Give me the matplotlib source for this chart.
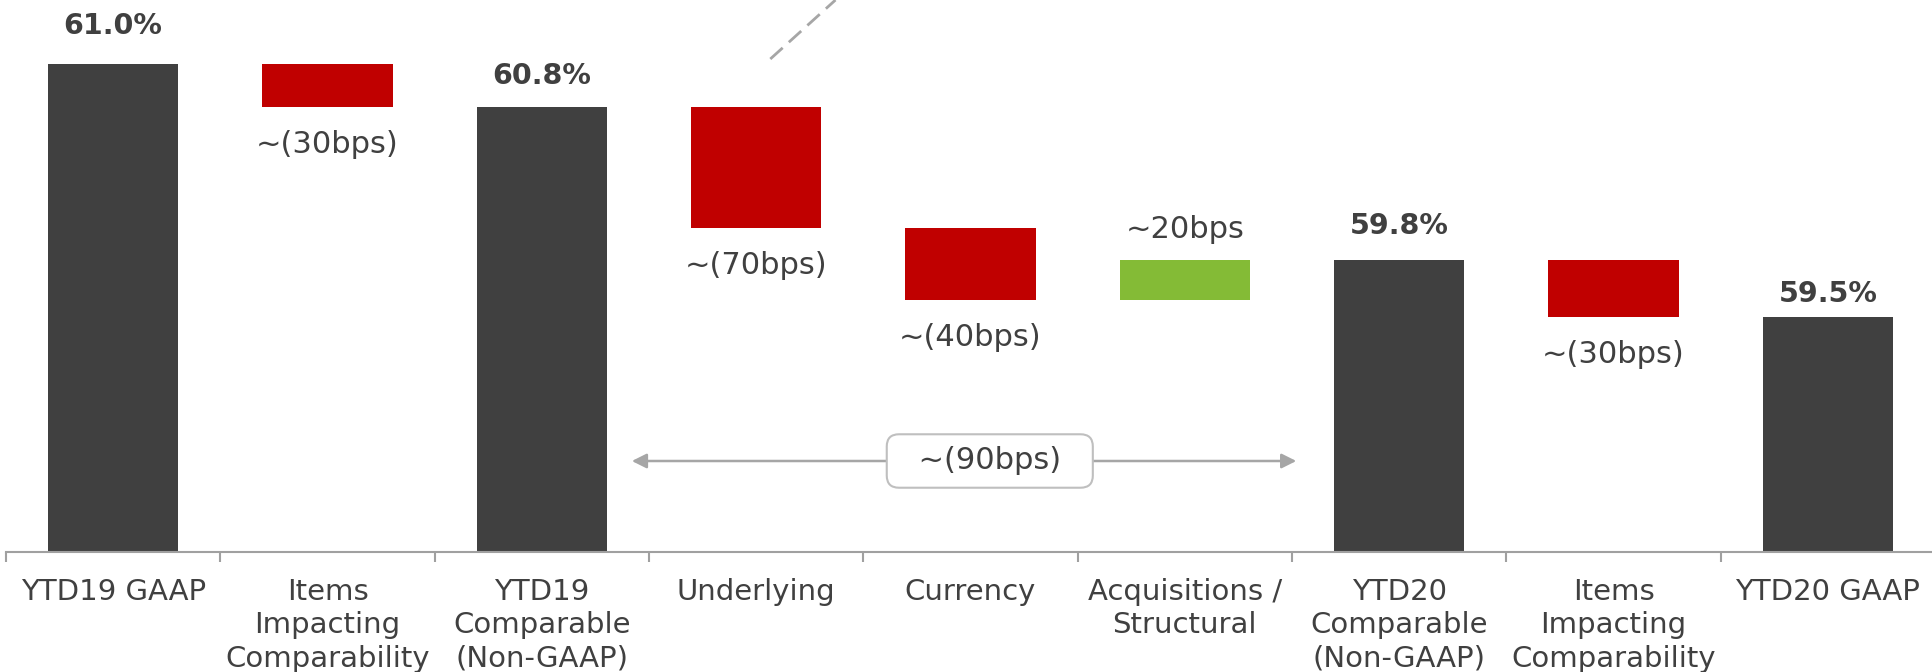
import matplotlib.pyplot as plt

plt.rcParams['font.family'] = ['DejaVu Sans']

categories = ['YTD19 GAAP', 'Items\nImpacting\nComparability', 'YTD19\nComparable\n(Non-GAAP)',
              'Underlying', 'Currency', 'Acquisitions /\nStructural',
              'YTD20\nComparable\n(Non-GAAP)', 'Items\nImpacting\nComparability', 'YTD20 GAAP']
kinds = ['total', 'delta', 'total', 'delta', 'delta', 'delta', 'total', 'delta', 'total']
values = [61.0, -0.25, 60.75, -0.70, -0.42, 0.23, 59.86, -0.33, 59.53]
labels = ['61.0%', '~(30bps)', '60.8%', '~(70bps)', '~(40bps)', '~20bps', '59.8%', '~(30bps)', '59.5%']
bracket_label = '~(90bps)'

base = 58.17
dark = '#404040'
red = '#C00000'
green = '#84BB36'
grey = '#A6A6A6'

fig = plt.figure(figsize=(19.33, 6.72), dpi=100)
ax = fig.add_axes([6/1933, 120/672, 1929/1933, 552/672])
ax.set_xlim(-0.5, 8.5)
ax.set_ylim(base, base + 552/172.6)

# label offsets (points) from bar end to text centre
tot_off = [27, 22, 25, 17]

level = base
ti = 0
for i, (k, v, lab) in enumerate(zip(kinds, values, labels)):
    if k == 'total':
        ax.bar(i, v - base, bottom=base, width=0.607, color=dark)
        ax.annotate(lab, (i, v), xytext=(0, tot_off[ti]), textcoords='offset points',
                    ha='center', va='center', fontsize=20.5, fontweight='bold', color=dark)
        ti += 1
        level = v
    else:
        c = red if v < 0 else green
        ax.bar(i, v, bottom=level, width=0.607, color=c)
        if v < 0:
            ax.annotate(lab, (i, level + v), xytext=(0, -27), textcoords='offset points',
                        ha='center', va='center', fontsize=22, color=dark)
        else:
            ax.annotate(lab, (i, level + v), xytext=(0, 22), textcoords='offset points',
                        ha='center', va='center', fontsize=22, color=dark)
        level = level + v

# axis styling
for s in ['top', 'left', 'right']:
    ax.spines[s].set_visible(False)
ax.spines['bottom'].set_color('#A0A0A0')
ax.spines['bottom'].set_linewidth(1.5)
ax.set_yticks([])
ax.set_xticks(range(len(categories)))
ax.set_xticklabels(categories, fontsize=21, color=dark, linespacing=1.23)
ax.tick_params(axis='x', which='major', length=0, pad=19)
ax.set_xticks([i - 0.5 for i in range(len(categories))], minor=True)
ax.tick_params(axis='x', which='minor', length=7.5, width=1.5, color='#A0A0A0')

# ~(90bps) bracket arrow
ya = base + 91/172.6
ax.annotate('', xy=(2.42, ya), xytext=(5.52, ya),
            arrowprops=dict(arrowstyle='<|-|>', color=grey, lw=1.8, mutation_scale=22,
                            shrinkA=0, shrinkB=0))
ax.text(4.09, ya, '  ' + bracket_label + '  ', ha='center', va='center', fontsize=22, color=dark,
        bbox=dict(boxstyle='round,pad=0.4,rounding_size=0.4', fc='white', ec='#BFBFBF', lw=1.5))

# dashed callout line at top
ax.plot([3.066, 3.37], [base + 493/172.6, base + 552/172.6], color=grey, lw=2,
        ls=(0, (6, 3)), clip_on=False)

fig.savefig('out.png', dpi=100)
